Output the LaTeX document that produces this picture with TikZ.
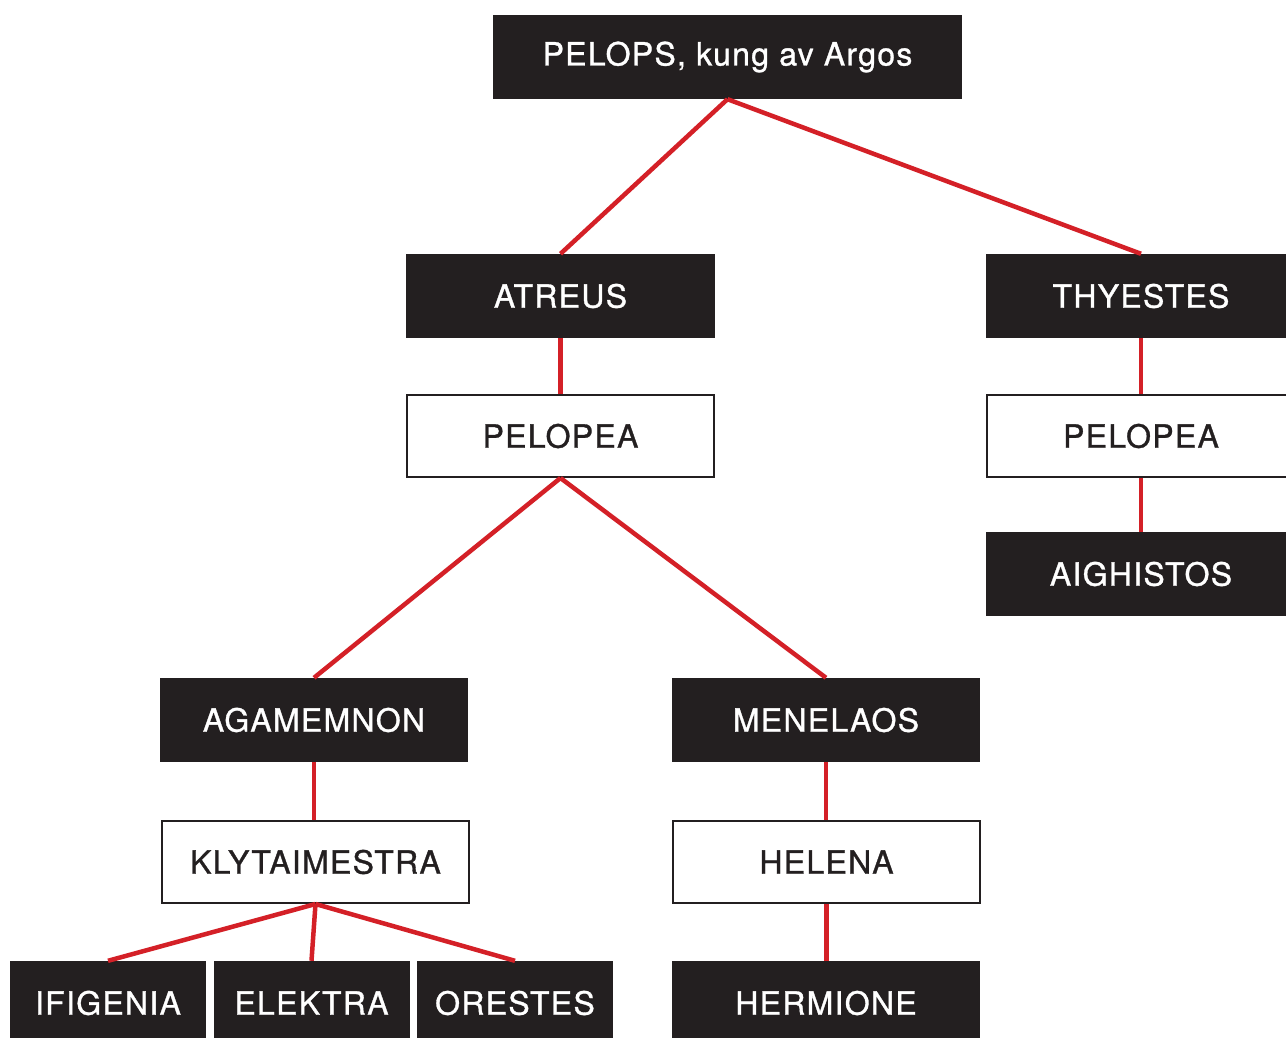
\documentclass[tikz,border=0pt]{standalone}
\usepackage{fontspec}
\setmainfont{TeX Gyre Heros}[LetterSpace=4, FakeBold=1.0]
\definecolor{boxblack}{HTML}{231F20}
\definecolor{linkred}{HTML}{D42027}
\tikzset{
  darkbox/.style={fill=boxblack, draw=none, text=white, minimum height=84pt, inner sep=0pt, font=\fontsize{32}{37}\selectfont},
  lightbox/.style={fill=white, draw=boxblack, line width=2pt, text=boxblack, minimum height=82pt, inner sep=0pt, font=\fontsize{32}{37}\selectfont},
  link/.style={draw=linkred, line width=4.5pt}
}
\begin{document}
\begin{tikzpicture}[x=1pt, y=-1pt]
\clip (0,0) rectangle (1286,1037);
\fill[white] (0,0) rectangle (1286,1037);
% nodes
\node[darkbox, minimum width=469pt] (pelops) at (727.5,57) {PELOPS, kung av Argos};
\node[darkbox, minimum width=309pt] (atreus) at (560.5,296) {ATREUS};
\node[darkbox, minimum width=310pt] (thyestes) at (1141,296) {THYESTES};
\node[lightbox, minimum width=307pt] (pelopeaL) at (560.5,436) {PELOPEA};
\node[lightbox, minimum width=308pt] (pelopeaR) at (1141,436) {PELOPEA};
\node[darkbox, minimum width=310pt] (aighistos) at (1141,574) {AIGHISTOS};
\node[darkbox, minimum width=308pt] (agamemnon) at (314,720) {AGAMEMNON};
\node[darkbox, minimum width=308pt] (menelaos) at (826,720) {MENELAOS};
\node[lightbox, minimum width=307pt] (klyt) at (315.5,862) {KLYTAIMESTRA};
\node[lightbox, minimum width=307pt] (helena) at (826.5,862) {HELENA};
\node[darkbox, minimum width=196pt] (ifigenia) at (108,1003) {IFIGENIA};
\node[darkbox, minimum width=196pt] (elektra) at (311.5,1003) {ELEKTRA};
\node[darkbox, minimum width=196pt] (orestes) at (515,1003) {ORESTES};
\node[darkbox, minimum width=308pt] (hermione) at (826,1003) {HERMIONE};
% connectors
\draw[link] (pelops.south) -- (atreus.north);
\draw[link] (pelops.south) -- (thyestes.north);
\draw[link] (atreus.south) -- (atreus.south |- pelopeaL.north);
\draw[link] (thyestes.south) -- (thyestes.south |- pelopeaR.north);
\draw[link] (pelopeaR.south) -- (pelopeaR.south |- aighistos.north);
\draw[link] (pelopeaL.south) -- (agamemnon.north);
\draw[link] (pelopeaL.south) -- (menelaos.north);
\draw[link] (agamemnon.south) -- (agamemnon.south |- klyt.north);
\draw[link] (menelaos.south) -- (menelaos.south |- helena.north);
\draw[link] (klyt.south) -- (ifigenia.north);
\draw[link] (klyt.south) -- (elektra.north);
\draw[link] (klyt.south) -- (orestes.north);
\draw[link] (helena.south) -- (helena.south |- hermione.north);
\end{tikzpicture}
\end{document}
